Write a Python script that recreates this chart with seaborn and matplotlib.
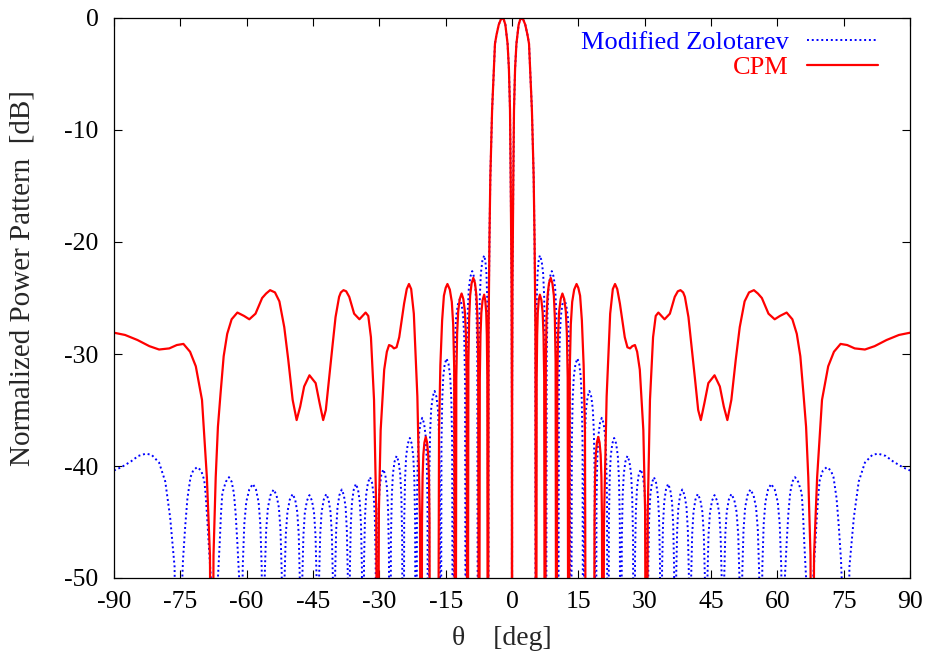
import matplotlib
matplotlib.use("Agg")
import matplotlib.pyplot as plt
import seaborn as sns
import pandas as pd

# ---------------- data ----------------
x_ticks = [-90, -75, -60, -45, -30, -15, 0, 15, 30, 45, 60, 75, 90]
x_tick_labels = ["-90", "-75", "-60", "-45", "-30", "-15", "0", "15", "30", "45", "60", "75", "90"]
y_ticks = [-50, -40, -30, -20, -10, 0]
y_tick_labels = ["-50", "-40", "-30", "-20", "-10", "0"]

series_names = ["Modified Zolotarev", "CPM"]

zol_theta = [
    -90, -88.3, -86.2, -84.5, -82.8, -81.5, -79.8, -78.4, -77.3, -76.3,
    -75.5, -74.6, -74.4, -73.9, -73.4, -72.7, -72.1, -71.2, -70.3, -69.6, -69.3, -68.9, -68.5, -68.1,
    -67.2, -66.5, -66.1, -65.8, -65.5, -64.7, -64.0, -63.4, -62.9, -62.5, -62.1, -61.7,
    -61.3, -60.9, -60.54, -60.09, -59.41, -58.6, -57.9, -57.31, -56.91, -56.6,
    -56.25, -55.9, -55.59, -55.19, -54.61, -53.9, -53.26, -52.72, -52.35, -52.07,
    -51.75, -51.43, -51.15, -50.78, -50.25, -49.6, -49.03, -48.56, -48.23, -47.99,
    -47.7, -47.42, -47.17, -46.85, -46.37, -45.8, -45.23, -44.76, -44.43, -44.19,
    -43.9, -43.62, -43.37, -43.05, -42.57, -42.0, -41.48, -41.04, -40.74, -40.51,
    -40.25, -39.99, -39.76, -39.46, -39.03, -38.5, -38.02, -37.62, -37.35, -37.14,
    -36.9, -36.66, -36.45, -36.18, -35.78, -35.3, -34.82, -34.42, -34.15, -33.94,
    -33.7, -33.46, -33.25, -32.98, -32.58, -32.1, -31.65, -31.28, -31.02, -30.83,
    -30.6, -30.38, -30.18, -29.93, -29.55, -29.1, -28.65, -28.28, -28.02, -27.83,
    -27.6, -27.38, -27.18, -26.93, -26.55, -26.1, -25.65, -25.28, -25.02, -24.83,
    -24.6, -24.38, -24.18, -23.93, -23.55, -23.1, -22.68, -22.33, -22.09, -21.91,
    -21.7, -21.49, -21.31, -21.07, -20.72, -20.3, -19.88, -19.53, -19.29, -19.11,
    -18.9, -18.69, -18.51, -18.27, -17.92, -17.5, -17.1, -16.76, -16.53, -16.35,
    -16.15, -15.95, -15.77, -15.54, -15.21, -14.8, -14.35, -13.98, -13.72, -13.53,
    -13.3, -13.08, -12.88, -12.63, -12.25, -11.8, -11.38, -11.03, -10.79, -10.61,
    -10.4, -10.19, -10.01, -9.77, -9.42, -9.0, -8.6, -8.26, -8.03, -7.85,
    -7.65, -7.45, -7.27, -7.04, -6.71, -6.3, -6.02, -5.78, -5.62, -5.49,
    -5.35, -5.3, -5.1, -4.9, -4.5, -3.85, -3.5, -3.0, -2.55, -2.2, -1.85, -1.5, -1.0, -0.7, -0.45, -0.3, -0.1, -0.03,
    0,
    0.03, 0.1, 0.3, 0.45, 0.7, 1.0, 1.5, 1.85, 2.2, 2.55, 3.0, 3.5, 3.85, 4.5, 4.9, 5.1, 5.3, 5.35,
    5.49, 5.62, 5.78, 6.02, 6.3, 6.71, 7.04, 7.27, 7.45, 7.65,
    7.85, 8.03, 8.26, 8.6, 9.0, 9.42, 9.77, 10.01, 10.19, 10.4,
    10.61, 10.79, 11.03, 11.38, 11.8, 12.25, 12.63, 12.88, 13.08, 13.3,
    13.53, 13.72, 13.98, 14.35, 14.8, 15.21, 15.54, 15.77, 15.95, 16.15,
    16.35, 16.53, 16.76, 17.1, 17.5, 17.92, 18.27, 18.51, 18.69, 18.9,
    19.11, 19.29, 19.53, 19.88, 20.3, 20.72, 21.07, 21.31, 21.49, 21.7,
    21.91, 22.09, 22.33, 22.68, 23.1, 23.55, 23.93, 24.18, 24.38, 24.6,
    24.83, 25.02, 25.28, 25.65, 26.1, 26.55, 26.93, 27.18, 27.38, 27.6,
    27.83, 28.02, 28.28, 28.65, 29.1, 29.55, 29.93, 30.18, 30.38, 30.6,
    30.83, 31.02, 31.28, 31.65, 32.1, 32.58, 32.98, 33.25, 33.46, 33.7,
    33.94, 34.15, 34.42, 34.82, 35.3, 35.78, 36.18, 36.45, 36.66, 36.9,
    37.14, 37.35, 37.62, 38.02, 38.5, 39.03, 39.46, 39.76, 39.99, 40.25,
    40.51, 40.74, 41.04, 41.48, 42.0, 42.57, 43.05, 43.37, 43.62, 43.9,
    44.19, 44.43, 44.76, 45.23, 45.8, 46.37, 46.85, 47.17, 47.42, 47.7,
    47.99, 48.23, 48.56, 49.03, 49.6, 50.25, 50.78, 51.15, 51.43, 51.75,
    52.07, 52.35, 52.72, 53.26, 53.9, 54.61, 55.19, 55.59, 55.9, 56.25,
    56.6, 56.91, 57.31, 57.9, 58.6, 59.41, 60.09, 60.54, 60.9, 61.3,
    61.7, 62.1, 62.5, 62.9, 63.4, 64.0, 64.7, 65.5, 65.8, 66.1, 66.5, 67.2,
    68.1, 68.5, 68.9, 69.3, 69.6, 70.3, 71.2, 72.1, 72.7, 73.4, 73.9, 74.4, 74.6, 75.5,
    76.3, 77.3, 78.4, 79.8, 81.5, 82.8, 84.5, 86.2, 88.3, 90,
]
zol_db = [
    -40.4, -40.1, -39.6, -39.1, -38.9, -39.0, -39.7, -41.4, -44.6, -49,
    -80, -50.5, -48.4, -45.4, -42.9, -41.0, -40.4, -40.1, -40.4, -41.25, -42.4, -44.8, -47.5, -50,
    -80, -50, -46.9, -44.2, -42.4, -41.4, -41.0, -41.4, -42.4, -44.2, -46.9, -50,
    -80, -49.1, -45.2, -43.2, -42.1, -41.6, -42.1, -43.2, -45.2, -49.1,
    -80, -49.6, -45.7, -43.7, -42.6, -42.1, -42.6, -43.7, -45.7, -49.6,
    -80, -50.0, -46.1, -44.1, -43.0, -42.5, -43.0, -44.1, -46.1, -50.0,
    -80, -50.1, -46.2, -44.2, -43.1, -42.6, -43.1, -44.2, -46.2, -50.1,
    -80, -50.0, -46.1, -44.1, -43.0, -42.5, -43.0, -44.1, -46.1, -50.0,
    -80, -49.6, -45.7, -43.7, -42.6, -42.1, -42.6, -43.7, -45.7, -49.6,
    -80, -49.1, -45.2, -43.2, -42.1, -41.6, -42.1, -43.2, -45.2, -49.1,
    -80, -48.5, -44.6, -42.6, -41.5, -41.0, -41.5, -42.6, -44.6, -48.5,
    -80, -47.8, -43.9, -41.9, -40.8, -40.3, -40.8, -41.9, -43.9, -47.8,
    -80, -46.6, -42.7, -40.7, -39.6, -39.1, -39.6, -40.7, -42.7, -46.6,
    -80, -45.0, -41.1, -39.1, -38.0, -37.5, -38.0, -39.1, -41.1, -45.0,
    -80, -43.2, -39.3, -37.3, -36.2, -35.7, -36.2, -37.3, -39.3, -43.2,
    -80, -40.8, -36.9, -34.9, -33.8, -33.3, -33.8, -34.9, -36.9, -40.8,
    -80, -37.9, -34.0, -32.0, -30.9, -30.4, -30.9, -32.0, -34.0, -37.9,
    -80, -32.6, -28.7, -26.7, -25.6, -25.1, -25.6, -26.7, -28.7, -32.6,
    -80, -30.1, -26.2, -24.2, -23.1, -22.6, -23.1, -24.2, -26.2, -30.1,
    -80, -28.7, -24.8, -22.8, -21.7, -21.2, -21.7, -22.8, -24.8, -28.7,
    -80, -28, -19.8, -14.2, -8.2, -2.3, -1.5, -0.6, -0.15, 0, -0.15, -0.6, -2.3, -4.5, -8.2, -14.2, -24, -35,
    -80,
    -35, -24, -14.2, -8.2, -4.5, -2.3, -0.6, -0.15, 0, -0.15, -0.6, -1.5, -2.3, -8.2, -14.2, -19.8, -28, -80,
    -28.7, -24.8, -22.8, -21.7, -21.2, -21.7, -22.8, -24.8, -28.7, -80,
    -30.1, -26.2, -24.2, -23.1, -22.6, -23.1, -24.2, -26.2, -30.1, -80,
    -32.6, -28.7, -26.7, -25.6, -25.1, -25.6, -26.7, -28.7, -32.6, -80,
    -37.9, -34.0, -32.0, -30.9, -30.4, -30.9, -32.0, -34.0, -37.9, -80,
    -40.8, -36.9, -34.9, -33.8, -33.3, -33.8, -34.9, -36.9, -40.8, -80,
    -43.2, -39.3, -37.3, -36.2, -35.7, -36.2, -37.3, -39.3, -43.2, -80,
    -45.0, -41.1, -39.1, -38.0, -37.5, -38.0, -39.1, -41.1, -45.0, -80,
    -46.6, -42.7, -40.7, -39.6, -39.1, -39.6, -40.7, -42.7, -46.6, -80,
    -47.8, -43.9, -41.9, -40.8, -40.3, -40.8, -41.9, -43.9, -47.8, -80,
    -48.5, -44.6, -42.6, -41.5, -41.0, -41.5, -42.6, -44.6, -48.5, -80,
    -49.1, -45.2, -43.2, -42.1, -41.6, -42.1, -43.2, -45.2, -49.1, -80,
    -49.6, -45.7, -43.7, -42.6, -42.1, -42.6, -43.7, -45.7, -49.6, -80,
    -50.0, -46.1, -44.1, -43.0, -42.5, -43.0, -44.1, -46.1, -50.0, -80,
    -50.1, -46.2, -44.2, -43.1, -42.6, -43.1, -44.2, -46.2, -50.1, -80,
    -50.0, -46.1, -44.1, -43.0, -42.5, -43.0, -44.1, -46.1, -50.0, -80,
    -49.6, -45.7, -43.7, -42.6, -42.1, -42.6, -43.7, -45.7, -49.6, -80,
    -49.1, -45.2, -43.2, -42.1, -41.6, -42.1, -43.2, -45.2, -49.1, -80,
    -50, -46.9, -44.2, -42.4, -41.4, -41.0, -41.4, -42.4, -44.2, -46.9, -50, -80,
    -50, -47.5, -44.8, -42.4, -41.25, -40.4, -40.1, -40.4, -41.0, -42.9, -45.4, -48.4, -50.5, -80,
    -49, -44.6, -41.4, -39.7, -39.0, -38.9, -39.1, -39.6, -40.1, -40.4,
]

cpm_theta = [
    -90, -87.5, -84.7, -82.0, -79.8, -77.5, -75.8, -74.3, -72.8, -71.5,
    -70.1, -69.0, -68.3, -67.9, -67.5, -67.0, -66.5, -65.9, -65.2, -64.4,
    -63.4, -62.1, -60.6, -59.4, -58.0, -56.5, -55.6, -54.7, -53.6, -52.6,
    -51.5, -50.6, -49.6, -48.7, -47.9, -47.0, -45.8, -44.4, -43.5, -42.7,
    -42.1, -41.4, -40.6, -39.9, -39.1, -38.7, -38.1, -37.5, -36.8, -35.7,
    -34.5, -33.8, -33.1, -32.5, -31.9, -31.2, -30.7,
    -30.4, -30.1, -29.7, -28.9, -28.3, -27.8, -27.2, -26.7, -26.1, -25.5, -24.4, -23.8, -23.3, -22.8, -22.2, -21.4, -20.8,
    -20.5, -20.35, -20.22, -20.05, -19.8, -19.5, -19.2, -18.95, -18.78, -18.65,
    -18.5, -17.6,
    -16.8, -16.5, -16.2, -15.8, -15.4, -15.0, -14.6, -14.06, -13.61, -13.3, -13.07,
    -12.8, -12.59, -12.41, -12.17, -11.82, -11.4, -11.0, -10.66, -10.43, -10.25,
    -10.05, -9.86, -9.69, -9.47, -9.14, -8.75, -8.36, -8.04, -7.81, -7.65,
    -7.45, -7.28, -7.13, -6.93, -6.65, -6.3, -6.05, -5.83, -5.69, -5.58,
    -5.45, -5.3, -5.1, -4.9, -4.5, -3.85, -3.5, -3.0, -2.55, -2.2, -1.85, -1.5, -1.0, -0.7, -0.45, -0.3, -0.1, -0.03,
    0,
    0.03, 0.1, 0.3, 0.45, 0.7, 1.0, 1.5, 1.85, 2.2, 2.55, 3.0, 3.5, 3.85, 4.5, 4.9, 5.1, 5.3, 5.45,
    5.58, 5.69, 5.83, 6.05, 6.3, 6.65, 6.93, 7.13, 7.28, 7.45,
    7.65, 7.81, 8.04, 8.36, 8.75, 9.14, 9.47, 9.69, 9.86, 10.05,
    10.25, 10.43, 10.66, 11.0, 11.4, 11.82, 12.17, 12.41, 12.59, 12.8,
    13.07, 13.3, 13.61, 14.06, 14.6, 15.0, 15.4, 15.8, 16.2, 16.5, 16.8,
    17.6, 18.5,
    18.65, 18.78, 18.95, 19.2, 19.5, 19.8, 20.05, 20.22, 20.35, 20.5,
    20.8, 21.4, 22.2, 22.8, 23.3, 23.8, 24.4, 25.5, 26.1, 26.7, 27.2, 27.8, 28.3, 28.9, 29.7, 30.1, 30.4,
    30.7, 31.2, 31.9, 32.5, 33.1, 33.8, 34.5, 35.7, 36.8, 37.5,
    38.1, 38.7, 39.1, 39.9, 40.6, 41.4, 42.1, 42.7, 43.5, 44.4,
    45.8, 47.0, 47.9, 48.7, 49.6, 50.6, 51.5, 52.6, 53.6, 54.7,
    55.6, 56.5, 58.0, 59.4, 60.6, 62.1, 63.4, 64.4, 65.2, 65.9,
    66.5, 67.0, 67.5, 67.9, 68.3, 69.0, 70.1, 71.5, 72.8, 74.3,
    75.8, 77.5, 79.8, 82.0, 84.7, 87.5, 90,
]
cpm_db = [
    -28.1, -28.3, -28.75, -29.3, -29.6, -29.5, -29.2, -29.1, -29.8, -31.1,
    -34.1, -41, -48, -80, -48, -41, -36.5, -33.5, -30.2, -28.2,
    -26.9, -26.3, -26.6, -26.9, -26.4, -25.0, -24.6, -24.3, -24.5, -25.3,
    -27.6, -30.5, -34.1, -35.9, -34.7, -32.9, -31.9, -32.6, -34.4, -35.9,
    -35.0, -32.3, -29.3, -26.7, -24.9, -24.5, -24.3, -24.4, -24.9, -26.4,
    -26.9, -26.6, -26.3, -26.6, -28.5, -34.1, -44,
    -80, -44, -36.8, -31.4, -29.8, -29.2, -29.3, -29.5, -29.4, -28.5, -25.5, -24.2, -23.75, -24.2, -26.4, -33.8, -45,
    -80, -44.9, -41.0, -39.0, -37.9, -37.4, -37.9, -39.0, -41.0, -44.9,
    -80, -65,
    -80, -37, -31.0, -27.0, -24.8, -24.1, -23.75, -24.25, -25.35, -27.35, -31.25,
    -80, -32.1, -28.2, -26.2, -25.1, -24.6, -25.1, -26.2, -28.2, -32.1,
    -80, -30.7, -26.8, -24.8, -23.7, -23.2, -23.7, -24.8, -26.8, -30.7,
    -80, -32.2, -28.3, -26.3, -25.2, -24.7, -25.2, -26.3, -28.3, -32.2,
    -80, -28, -19.8, -14.2, -8.2, -2.3, -1.5, -0.6, -0.15, 0, -0.15, -0.6, -2.3, -4.5, -8.2, -14.2, -24, -35,
    -80,
    -35, -24, -14.2, -8.2, -4.5, -2.3, -0.6, -0.15, 0, -0.15, -0.6, -1.5, -2.3, -8.2, -14.2, -19.8, -28, -80,
    -32.2, -28.3, -26.3, -25.2, -24.7, -25.2, -26.3, -28.3, -32.2, -80,
    -30.7, -26.8, -24.8, -23.7, -23.2, -23.7, -24.8, -26.8, -30.7, -80,
    -32.1, -28.2, -26.2, -25.1, -24.6, -25.1, -26.2, -28.2, -32.1, -80,
    -31.25, -27.35, -25.35, -24.25, -23.75, -24.1, -24.8, -27.0, -31.0, -37, -80,
    -65, -80,
    -44.9, -41.0, -39.0, -37.9, -37.4, -37.9, -39.0, -41.0, -44.9, -80,
    -45, -33.8, -26.4, -24.2, -23.75, -24.2, -25.5, -28.5, -29.4, -29.5, -29.3, -29.2, -29.8, -31.4, -36.8, -44, -80,
    -44, -34.1, -28.5, -26.6, -26.3, -26.6, -26.9, -26.4, -24.9, -24.4,
    -24.3, -24.5, -24.9, -26.7, -29.3, -32.3, -35.0, -35.9, -34.4, -32.6,
    -31.9, -32.9, -34.7, -35.9, -34.1, -30.5, -27.6, -25.3, -24.5, -24.3,
    -24.6, -25.0, -26.4, -26.9, -26.6, -26.3, -26.9, -28.2, -30.2, -33.5,
    -36.5, -41, -48, -80, -48, -41, -34.1, -31.1, -29.8, -29.1,
    -29.2, -29.5, -29.6, -29.3, -28.75, -28.3, -28.1,
]

assert len(zol_theta) == len(zol_db), (len(zol_theta), len(zol_db))
assert len(cpm_theta) == len(cpm_db), (len(cpm_theta), len(cpm_db))

zol_df = pd.DataFrame({"theta": zol_theta, "db": zol_db})
cpm_df = pd.DataFrame({"theta": cpm_theta, "db": cpm_db})

# ---------------- style ----------------
sns.set_style("ticks")
plt.rcParams["font.family"] = ["Liberation Serif", "DejaVu Serif"]
FS_TICK = 18.5
FS_XLABEL = 20
FS_YLABEL = 21
FS_LEG = 19

fig = plt.figure(figsize=(9.32, 6.66), dpi=100)
ax = fig.add_axes([114 / 932, 88 / 666, 796 / 932, 560 / 666])

sns.lineplot(data=zol_df, x="theta", y="db", ax=ax, color="#0000ff",
             label=series_names[0], estimator=None, sort=False, lw=1.4)
sns.lineplot(data=cpm_df, x="theta", y="db", ax=ax, color="#ff0000",
             label=series_names[1], estimator=None, sort=False, lw=1.6)
ax.lines[0].set_linestyle((0, (1, 1.45)))

ax.set_xlim(-90, 90)
ax.set_ylim(-50, 0)
ax.set_xticks(x_ticks)
ax.set_xticklabels(x_tick_labels)
ax.set_yticks(y_ticks)
ax.set_yticklabels(y_tick_labels)
ax.tick_params(axis="both", direction="in", length=6, width=0.8, colors="black",
               top=True, right=True, labelsize=FS_TICK)
ax.tick_params(axis="y", pad=11)
ax.tick_params(axis="x", pad=9.5)
for sp in ax.spines.values():
    sp.set_linewidth(0.9)
    sp.set_color("black")
    sp.set_visible(True)

ax.set_xlabel("\u03b8    [deg]", fontsize=FS_XLABEL)
ax.set_ylabel("Normalized Power Pattern  [dB]", fontsize=FS_YLABEL)
ax.xaxis.set_label_coords(0.487, -0.086)
ax.yaxis.set_label_coords(-0.098, 0.536)

leg = ax.legend(loc="upper right", bbox_to_anchor=(0.9598, 0.978), frameon=False,
                markerfirst=False, labelcolor="linecolor", fontsize=FS_LEG,
                handlelength=2.7, handletextpad=0.68, borderpad=0, borderaxespad=0,
                labelspacing=0.08)

fig.savefig("out.png", dpi=100)
